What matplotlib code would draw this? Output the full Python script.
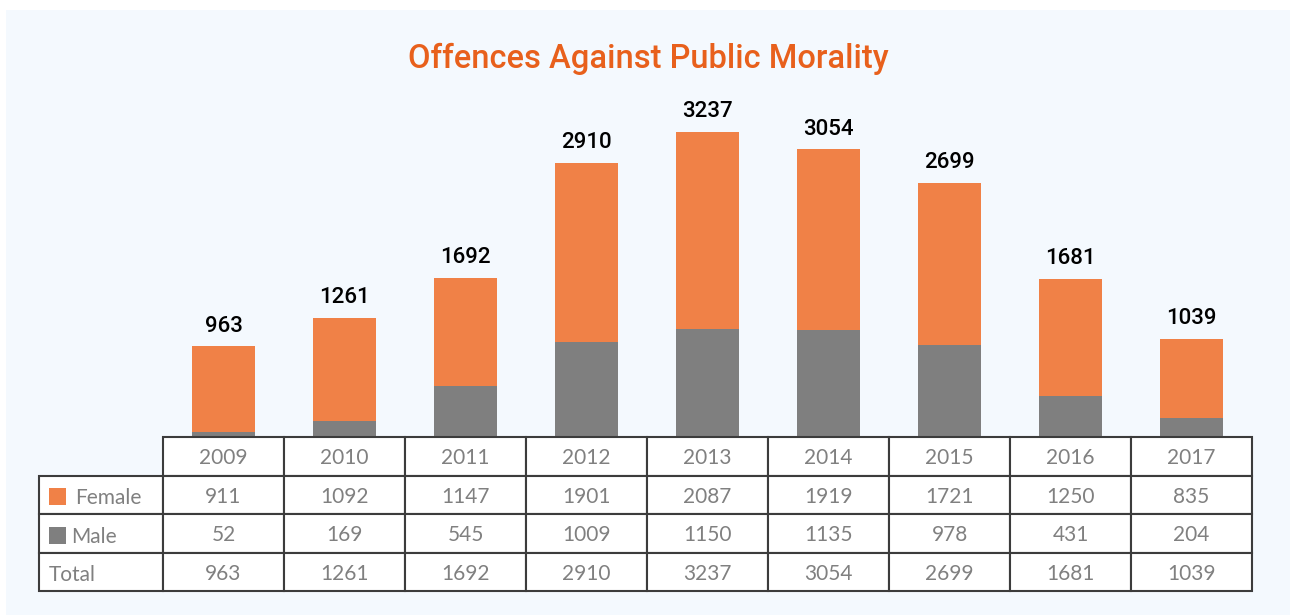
import matplotlib
matplotlib.use('Agg')
import matplotlib.pyplot as plt
from matplotlib.patches import Rectangle

years = ['2009', '2010', '2011', '2012', '2013', '2014', '2015', '2016', '2017']
female = [911, 1092, 1147, 1901, 2087, 1919, 1721, 1250, 835]
male = [52, 169, 545, 1009, 1150, 1135, 978, 431, 204]
total = [963, 1261, 1692, 2910, 3237, 3054, 2699, 1681, 1039]

ORANGE = '#f08147'
GREY = '#7f7f7f'
BG = '#f4f9fe'
TXT = '#808080'

W, H = 1290, 615
fig = plt.figure(figsize=(W / 100, H / 100), dpi=100, facecolor='white')

# light panel behind everything
fig.patches.append(Rectangle((6 / W, 0), 1 - 6 / W, (H - 10) / H,
                             transform=fig.transFigure, facecolor=BG,
                             edgecolor='none', zorder=-10))

fig.text(648 / W, 1 - 59 / H, 'Offences Against Public Morality',
         ha='center', va='center', fontsize=23.5, color='#e8601c',
         family='Roboto', fontweight='medium')

# bar area sits right on top of the table's year columns
ax = fig.add_axes([163 / W, 178 / H, 1089 / W, (437 - 90) / H])
ax.set_facecolor('none')
x = range(len(years))
ax.bar(x, male, width=0.52, color=GREY)
ax.bar(x, female, width=0.52, bottom=male, color=ORANGE)
for i, t in enumerate(total):
    ax.annotate(str(t), (i, t), xytext=(0, 7), textcoords='offset points',
                ha='center', va='bottom', fontsize=16, fontweight='medium',
                family='Roboto', color='black')
ax.set_xlim(-0.5, len(years) - 0.5)
ax.set_ylim(0, 3683)
ax.axis('off')

# data table
tax = fig.add_axes([0, 0, 1, 1])
tax.axis('off')
rows = [[''] + [str(v) for v in female],
        [''] + [str(v) for v in male],
        [''] + [str(v) for v in total]]
tbl = tax.table(cellText=rows, colLabels=[''] + years,
                colWidths=[124] + [121] * len(years), cellLoc='center',
                bbox=[39 / W, (H - 591) / H, (1252 - 39) / W, (591 - 437) / H])
tbl.auto_set_font_size(False)
tbl.set_fontsize(15)
for (r, c), cell in tbl.get_celld().items():
    cell.set_edgecolor('#3c3c3c')
    cell.set_linewidth(1.5)
    cell.set_facecolor('white')
    txt = cell.get_text()
    txt.set_color(TXT)
    txt.set_family('Lato')
    txt.set_fontweight('normal')
    txt.set_va('center_baseline')
tbl[0, 0].set_visible(False)

# row labels with legend swatches
row_y = [496, 535, 573]
fig.patches.append(Rectangle((49 / W, 1 - 505 / H), 17 / W, 17 / H,
                             transform=fig.transFigure, facecolor=ORANGE))
fig.patches.append(Rectangle((49 / W, 1 - 544 / H), 17 / W, 17 / H,
                             transform=fig.transFigure, facecolor=GREY))
for lx, lab, ly in [(75, 'Female', row_y[0]), (71, 'Male', row_y[1]),
                    (49, 'Total', row_y[2])]:
    fig.text(lx / W, 1 - ly / H, lab, ha='left', va='center_baseline',
             fontsize=15, color=TXT, family='Lato', fontweight='normal')

fig.savefig('out.png', dpi=100, facecolor=fig.get_facecolor())
